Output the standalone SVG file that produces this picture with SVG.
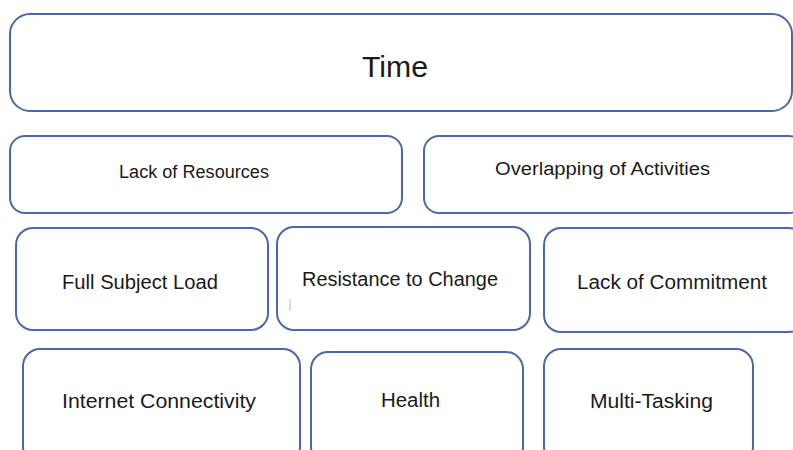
<svg xmlns="http://www.w3.org/2000/svg" width="793" height="450" viewBox="0 0 793 450">
  <style>
    .box { fill: #ffffff; stroke: #4a69a6; stroke-width: 2; }
    .lbl { font-family: "Liberation Sans", Arial, sans-serif; fill: #1a1a1a; }
    .s17 { font-size: 18px; }
    .s18 { font-size: 19.5px; }
  </style>
  <rect width="793" height="450" fill="#ffffff"/>

  <!-- Top banner -->
  <g id="time">
    <rect class="box" x="10" y="14" width="782" height="97" rx="20"/>
    <text class="lbl" x="362" y="77" font-size="29" textLength="66" lengthAdjust="spacingAndGlyphs">Time</text>
  </g>

  <!-- Second row -->
  <g id="lack-of-resources">
    <rect class="box" x="10" y="136" width="392" height="77" rx="15"/>
    <text class="lbl s17" x="119" y="178" textLength="150" lengthAdjust="spacingAndGlyphs">Lack of Resources</text>
  </g>
  <g id="overlapping-of-activities">
    <rect class="box" x="424" y="136" width="380" height="77" rx="15"/>
    <text class="lbl s17" x="495" y="175" textLength="215" lengthAdjust="spacingAndGlyphs">Overlapping of Activities</text>
  </g>

  <!-- Third row -->
  <g id="full-subject-load">
    <rect class="box" x="16" y="228" width="252" height="102" rx="17"/>
    <text class="lbl s18" x="62" y="289" textLength="156" lengthAdjust="spacingAndGlyphs">Full Subject Load</text>
  </g>
  <g id="resistance-to-change">
    <rect class="box" x="277" y="227" width="253" height="103" rx="17"/>
    <line x1="290" y1="299" x2="290" y2="311" stroke="#cfcfcf" stroke-width="1.5"/>
    <text class="lbl s18" x="302" y="286" textLength="196" lengthAdjust="spacingAndGlyphs">Resistance to Change</text>
  </g>
  <g id="lack-of-commitment">
    <rect class="box" x="544" y="228" width="262" height="104" rx="17"/>
    <text class="lbl s18" x="577" y="289" textLength="190" lengthAdjust="spacingAndGlyphs">Lack of Commitment</text>
  </g>

  <!-- Bottom row -->
  <g id="internet-connectivity">
    <rect class="box" x="23" y="349" width="277" height="115" rx="17"/>
    <text class="lbl s18" x="62" y="408" textLength="194" lengthAdjust="spacingAndGlyphs">Internet Connectivity</text>
  </g>
  <g id="health">
    <rect class="box" x="311" y="352" width="212" height="112" rx="17"/>
    <text class="lbl s18" x="381" y="407" textLength="59" lengthAdjust="spacingAndGlyphs">Health</text>
  </g>
  <g id="multi-tasking">
    <rect class="box" x="544" y="349" width="209" height="115" rx="17"/>
    <text class="lbl s18" x="590" y="408" textLength="123" lengthAdjust="spacingAndGlyphs">Multi-Tasking</text>
  </g>

  <g id="connectors"></g>
</svg>
